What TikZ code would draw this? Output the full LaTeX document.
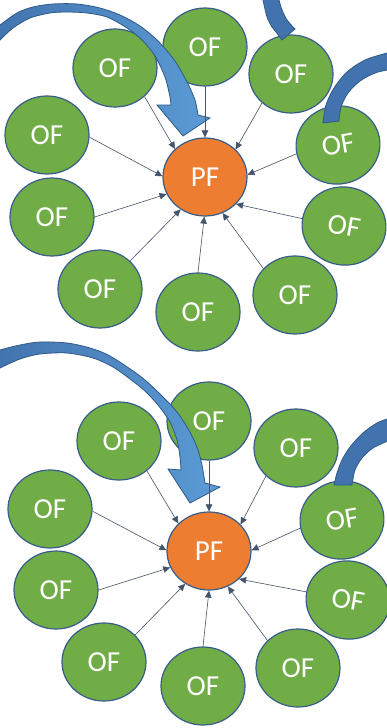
\documentclass[tikz,border=0pt]{standalone}
\usepackage{fontspec}
\setmainfont{Carlito}
\usetikzlibrary{arrows.meta,shapes.geometric}
\definecolor{ofgreen}{HTML}{70AD47}
\definecolor{pforange}{HTML}{ED7D31}
\definecolor{nodeedge}{HTML}{385D8A}
\definecolor{connc}{HTML}{44546A}
\definecolor{arrlight}{HTML}{5B9BD5}
\definecolor{arrdark}{HTML}{4273AE}
\definecolor{arredge}{HTML}{2E5A87}
\begin{document}
\begin{tikzpicture}[x=1pt,y=-1pt,
  ofnode/.style={ellipse, draw=nodeedge, line width=1.2pt, fill=ofgreen,
    minimum width=84pt, minimum height=78pt, inner sep=0pt, text=white,
    font=\fontsize{29}{29}\selectfont},
  pfnode/.style={ofnode, fill=pforange},
  connector/.style={draw=connc, line width=0.6pt, -{Triangle[length=7pt,width=6.5pt]}},
  bigarrow/.style={left color=arrdark, middle color=arrlight, right color=arrlight, draw=arredge, line width=0.8pt},
  smallarrow/.style={fill=arrdark, draw=arredge, line width=0.8pt}]
\clip (0,0) rectangle (387,728);
\fill[white] (0,0) rectangle (387,728);

% ---------- top group ----------
\node[pfnode] (pfA) at (205,177) {PF};
\node[ofnode] (ofA1) at (115,68) {OF};
\node[ofnode] (ofA2) at (205,47) {OF};
\node[ofnode] (ofA3) at (291,74) {OF};
\node[ofnode] (ofA4) at (47,135) {OF};
\node[ofnode, rotate=10] (ofA5) at (338,145) {OF};
\node[ofnode] (ofA6) at (52,217) {OF};
\node[ofnode, rotate=-10] (ofA7) at (344,226) {OF};
\node[ofnode] (ofA8) at (100,289) {OF};
\node[ofnode] (ofA9) at (198,312) {OF};
\node[ofnode] (ofA10) at (295,295) {OF};

% ---------- bottom group ----------
\node[pfnode] (pfB) at (209,551) {PF};
\node[ofnode] (ofB1) at (119,441) {OF};
\node[ofnode] (ofB2) at (209,421) {OF};
\node[ofnode] (ofB3) at (296,448) {OF};
\node[ofnode] (ofB4) at (50,509) {OF};
\node[ofnode, rotate=10] (ofB5) at (342,520) {OF};
\node[ofnode] (ofB6) at (56,590) {OF};
\node[ofnode, rotate=-10] (ofB7) at (348,600) {OF};
\node[ofnode] (ofB8) at (104,662) {OF};
\node[ofnode] (ofB9) at (203,686) {OF};
\node[ofnode] (ofB10) at (298,668) {OF};

% ---------- curved block arrows ----------
\path[bigarrow] plot[smooth] coordinates {(-10,33) (0,25) (17,13) (33,7) (53,4) (77,4) (100,8) (120,15) (140,26) (158,41) (175,61) (188,84) (195,100) (198,115)}
  -- (210,118) -- (183,136) -- (157,105)
  -- plot[smooth] coordinates {(171,105) (170,97) (165,77) (155,56) (142,40) (127,28) (107,17) (87,13) (67,12) (50,13) (30,18) (13,28) (0,40) (-10,50)} -- cycle;

\path[smallarrow] plot[smooth] coordinates {(262,-5) (263,0) (267,17) (272,27) (276,32)}
  -- (282,40) -- plot[smooth] coordinates {(295,29) (287,20) (282,10) (279,0) (278,-5)} -- cycle;

\path[smallarrow] plot[smooth] coordinates {(395,51) (387,53) (365,60) (347,72) (334,88) (326,105) (323,123)}
  -- plot[smooth] coordinates {(339,121) (341,107) (348,93) (360,81) (375,73) (387,70) (395,68)} -- cycle;

\path[bigarrow] plot[smooth] coordinates {(-10,354) (0,350) (20,345) (40,342) (67,343) (90,348) (110,356) (140,376) (160,394) (177,412) (190,432) (198,450) (202,465) (205,483)}
  -- (220,487) -- (190,503) -- (168,469)
  -- plot[smooth] coordinates {(181,470) (180,457) (177,440) (170,422) (158,405) (145,391) (130,379) (113,367) (93,358) (67,353) (40,354) (20,359) (0,368) (-10,374)} -- cycle;

\path[smallarrow] plot[smooth] coordinates {(395,416) (390,418) (377,423) (363,433) (350,447) (342,460) (337,473) (334,485)}
  -- plot[smooth] coordinates {(352,485) (355,470) (362,458) (373,448) (390,440) (395,438)} -- cycle;

% ---------- connectors ----------
\draw[connector] (ofA1.-44) -- (pfA.137);
\draw[connector] (ofA2.-90) -- (pfA.90);
\draw[connector] (ofA3.-135) -- (pfA.42);
\draw[connector] (ofA4.-3) -- (pfA.179);
\draw[connector] (ofA5.182) -- (pfA.3);
\draw[connector] (ofA6.0) -- (pfA.204);
\draw[connector] (ofA7.180) -- (pfA.-41);
\draw[connector] (ofA8.43) -- (pfA.233);
\draw[connector] (ofA9.90) -- (pfA.269);
\draw[connector] (ofA10.140) -- (pfA.-64);

\draw[connector] (ofB1.-47) -- (pfB.138);
\draw[connector] (ofB2.-90) -- (pfB.90);
\draw[connector] (ofB3.-137) -- (pfB.40);
\draw[connector] (ofB4.-3) -- (pfB.179);
\draw[connector] (ofB5.181) -- (pfB.1);
\draw[connector] (ofB6.0) -- (pfB.203);
\draw[connector] (ofB7.179) -- (pfB.-43);
\draw[connector] (ofB8.41) -- (pfB.234);
\draw[connector] (ofB9.90) -- (pfB.270);
\draw[connector] (ofB10.138) -- (pfB.-62);
\end{tikzpicture}
\end{document}
